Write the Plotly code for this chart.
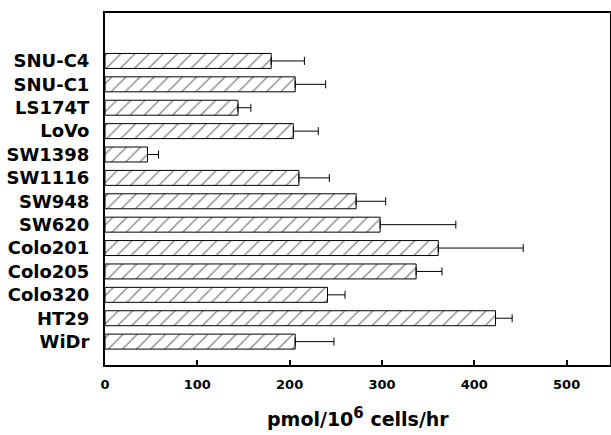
import plotly.graph_objects as go

cell_lines = ["SNU-C4", "SNU-C1", "LS174T", "LoVo", "SW1398", "SW1116", "SW948",
              "SW620", "Colo201", "Colo205", "Colo320", "HT29", "WiDr"]
means = [180, 206, 144, 204, 46, 210, 272, 298, 361, 337, 241, 423, 206]
upper = [216, 239, 158, 231, 58, 243, 304, 380, 453, 365, 260, 441, 248]
x_ticks = [0, 100, 200, 300, 400, 500]

err_plus = [u - m for u, m in zip(upper, means)]

fig = go.Figure()
fig.add_trace(go.Bar(
    y=cell_lines, x=means, orientation="h",
    marker=dict(color="white", line=dict(color="black", width=1),
                pattern=dict(shape="/", fgcolor="black", bgcolor="white",
                             size=10, solidity=0.12)),
    error_x=dict(type="data", symmetric=False, array=err_plus,
                 arrayminus=[0] * len(means), color="black", thickness=1, width=4),
))

fig.update_layout(
    width=611, height=435,
    margin=dict(l=105, r=1, t=13, b=70, autoexpand=False),
    paper_bgcolor="white", plot_bgcolor="white",
    showlegend=False, bargap=0.36,
    font=dict(family="DejaVu Sans", color="black"),
    xaxis=dict(range=[0, 547], tickvals=x_ticks, ticks="inside", ticklen=5,
               tickwidth=1.5, tickcolor="black", showgrid=False, zeroline=False,
               showline=True, linecolor="black", linewidth=2, mirror=True,
               tickfont=dict(family="DejaVu Sans", size=13, weight="bold"),
               ticklabelstandoff=6, automargin=False),
    yaxis=dict(type="category", categoryorder="array",
               categoryarray=list(reversed(cell_lines)), range=[-1, 14.05],
               ticks="", showgrid=False, zeroline=False, showline=True,
               linecolor="black", linewidth=2, mirror=True,
               tickfont=dict(family="DejaVu Sans", size=18, weight="bold"),
               ticklabelstandoff=10, automargin=False),
)
fig.add_annotation(text="pmol/10<sup><span style='font-size:15px'>6</span></sup> cells/hr",
                   xref="paper", yref="paper",
                   x=0.5, y=-0.19, yanchor="bottom", showarrow=False,
                   font=dict(family="DejaVu Sans", size=19, weight="bold"))
fig.write_html("out.html", config={"displayModeBar": False},
               post_script="document.body.style.margin='0';document.body.style.overflow='hidden';")
